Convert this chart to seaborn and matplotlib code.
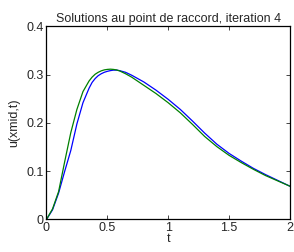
import matplotlib
matplotlib.use('Agg')
import matplotlib.pyplot as plt
import seaborn as sns
import pandas as pd

# values
t = [0, 0.05, 0.1, 0.15, 0.2, 0.25, 0.3, 0.35, 0.375, 0.4, 0.425, 0.45, 0.475, 0.5, 0.525,
     0.55, 0.575, 0.6, 0.65, 0.7, 0.8, 0.9, 1.0, 1.1, 1.2, 1.3, 1.4, 1.5, 1.6, 1.7, 1.8, 1.9, 2.0]
u_blue = [0, 0.02, 0.055, 0.1, 0.143, 0.198, 0.242, 0.272, 0.284, 0.292, 0.298, 0.302, 0.305,
          0.307, 0.3085, 0.3095, 0.3095, 0.3085, 0.305, 0.299, 0.285, 0.268, 0.249, 0.228, 0.204,
          0.179, 0.156, 0.137, 0.121, 0.106, 0.093, 0.081, 0.069]
u_green = [0, 0.022, 0.058, 0.12, 0.18, 0.228, 0.265, 0.287, 0.295, 0.301, 0.305, 0.308, 0.31,
           0.311, 0.3115, 0.311, 0.31, 0.308, 0.302, 0.295, 0.278, 0.261, 0.242, 0.221, 0.197,
           0.172, 0.151, 0.133, 0.118, 0.104, 0.091, 0.08, 0.069]

df = pd.DataFrame({'t': t, 'blue': u_blue, 'green': u_green})

sns.set_style('white')
plt.rcParams['font.family'] = ['Liberation Sans', 'DejaVu Sans']

fig = plt.figure(figsize=(2.94, 2.52), dpi=100)
ax = fig.add_axes([0.158, 0.129, 0.828, 0.766])

sns.lineplot(data=df, x='t', y='blue', color=(0, 0, 1), lw=0.9, ax=ax)
sns.lineplot(data=df, x='t', y='green', color=(0, 0.5, 0), lw=0.9, ax=ax)

ax.set_xlim(0, 2)
ax.set_ylim(0, 0.4)
ax.set_xticks([0, 0.5, 1, 1.5, 2])
ax.set_xticklabels(['0', '0.5', '1', '1.5', '2'])
ax.set_yticks([0, 0.1, 0.2, 0.3, 0.4])
ax.set_yticklabels(['0', '0.1', '0.2', '0.3', '0.4'])
ax.tick_params(direction='in', length=3, width=0.6, labelsize=9, pad=2,
               top=True, right=True, bottom=True, left=True)
for s in ax.spines.values():
    s.set_color('black')
    s.set_linewidth(0.9)

ax.set_xlabel('t', fontsize=9, labelpad=-1)
ax.set_ylabel('u(xmid,t)', fontsize=9, labelpad=4)
ax.set_title('Solutions au point de raccord, iteration 4', fontsize=9, pad=3)

fig.savefig('out.png', dpi=100)
